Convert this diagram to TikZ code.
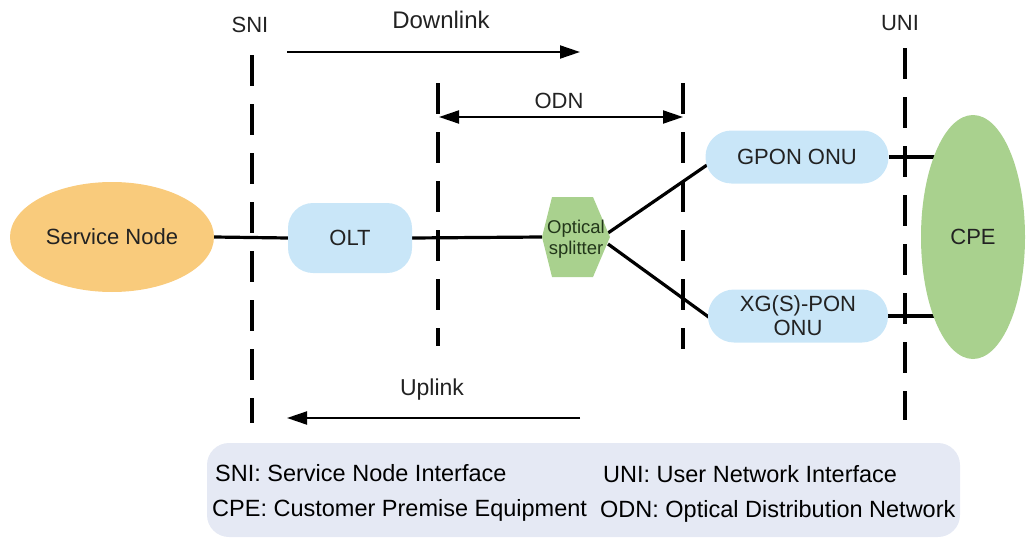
\documentclass[tikz,border=0pt]{standalone}
\usepackage{fontspec}
\setmainfont{Liberation Sans}
\usetikzlibrary{shapes.geometric,arrows.meta,backgrounds}
\definecolor{svc}{HTML}{F9CB7C}
\definecolor{onu}{HTML}{C9E6F8}
\definecolor{grn}{HTML}{A9D18E}
\definecolor{leg}{HTML}{E5E9F4}
\definecolor{txt}{HTML}{222222}
\definecolor{spltxt}{HTML}{22361A}
\tikzset{
  lbl/.style={font=\fontsize{22}{25}\selectfont, text=txt, inner sep=0pt},
  boxnode/.style={fill=onu, rounded corners=25pt, font=\fontsize{22}{25}\selectfont, text=txt, align=center, inner sep=0pt},
  conn/.style={line width=3.2pt, black},
  iface/.style={line width=3.8pt, black, dash pattern=on 31pt off 18pt},
  flow/.style={line width=2pt, black, -{Triangle[length=20pt,width=13pt]}},
  flow2/.style={line width=2pt, black, {Triangle[length=20pt,width=13pt]}-{Triangle[length=20pt,width=13pt]}},
  legtxt/.style={font=\fontsize{23.5}{27}\selectfont, text=black, inner sep=0pt, anchor=west}
}
\begin{document}
\begin{tikzpicture}[x=1pt,y=-1pt]
\useasboundingbox (0,0) rectangle (1026,538);
% nodes
\node[ellipse, fill=svc, minimum width=204pt, minimum height=110pt, inner sep=0pt, font=\fontsize{22}{25}\selectfont, text=txt] (sn) at (112,237) {Service Node};
\node[boxnode, minimum width=124pt, minimum height=70pt] (olt) at (350,238) {OLT};
\node[boxnode, rounded corners=26pt, minimum width=183pt, minimum height=53pt] (gpon) at (797,157) {GPON ONU};
\node[boxnode, rounded corners=26pt, minimum width=180pt, minimum height=53pt] (xg) at (798,316) {XG(S)-PON\\[-1pt]ONU};
\node[ellipse, fill=grn, minimum width=104pt, minimum height=244pt, inner sep=0pt, font=\fontsize{22}{25}\selectfont, text=txt] (cpe) at (973,237) {CPE};
% splitter hexagon
\coordinate (h1) at (552,197);
\coordinate (h2) at (593,197);
\coordinate (h3) at (610,237);
\coordinate (h4) at (593,277);
\coordinate (h5) at (552,277);
\coordinate (h6) at (542,237);
\fill[grn] (h1) -- (h2) -- (h3) -- (h4) -- (h5) -- (h6) -- cycle;
\node[font=\fontsize{18.5}{21}\selectfont, text=spltxt, align=center, inner sep=0pt] (spl) at (576,239) {Optical\\splitter};
\coordinate (splU) at (608,233);
\coordinate (splD) at (608,244);
\coordinate (gponIn) at (707,165);
\coordinate (xgIn) at (710,318);
% labels
\node[lbl] (sni) at (250,25) {SNI};
\node[lbl] (uni) at (900,23) {UNI};
\node[lbl, font=\fontsize{24}{27}\selectfont] (down) at (441,20) {Downlink};
\node[lbl] (odn) at (559,101) {ODN};
\node[lbl, font=\fontsize{23}{26}\selectfont] (up) at (432,390) {Uplink};
% interface lines and connectors in background
\coordinate (sniT) at (252,55);  \coordinate (sniB) at (252,423);
\coordinate (odnLT) at (438,83); \coordinate (odnLB) at (438,346);
\coordinate (odnRT) at (683,83); \coordinate (odnRB) at (683,349);
\coordinate (uniT) at (905,48);  \coordinate (uniB) at (905,420);
\begin{scope}[on background layer]
\draw[iface] (sniT) -- (sniB);
\draw[iface] (odnLT) -- (odnLB);
\draw[iface] (odnRT) -- (odnRB);
\draw[iface] (uniT) -- (uniB);
\draw[conn] (sn.east) -- (olt.west);
\draw[conn] (olt.east) -- (h6);
\draw[conn] (splU) -- (gponIn);
\draw[conn] (splD) -- (xgIn);
\draw[conn] (gpon.east) -- (gpon.east -| cpe.center);
\draw[conn] (xg.east) -- (xg.east -| cpe.center);
\end{scope}
% flow arrows
\coordinate (dnS) at (287,52); \coordinate (dnE) at (580,52);
\coordinate (odnA) at (439,117); \coordinate (odnB) at (683,117);
\coordinate (upS) at (580,418); \coordinate (upE) at (287,418);
\draw[flow] (dnS) -- (dnE);
\draw[flow2] (odnA) -- (odnB);
\draw[flow] (upS) -- (upE);
% legend
\node[fill=leg, rounded corners=22pt, minimum width=753pt, minimum height=94pt, inner sep=0pt] (legend) at (583.5,490) {};
\node[legtxt] (l1) at (215,473) {SNI: Service Node Interface};
\node[legtxt] (l2) at (212,510) {CPE: Customer Premise Equipment};
\node[legtxt] (l3) at (603,474) {UNI: User Network Interface};
\node[legtxt] (l4) at (600,511) {ODN: Optical Distribution Network};
\end{tikzpicture}
\end{document}
